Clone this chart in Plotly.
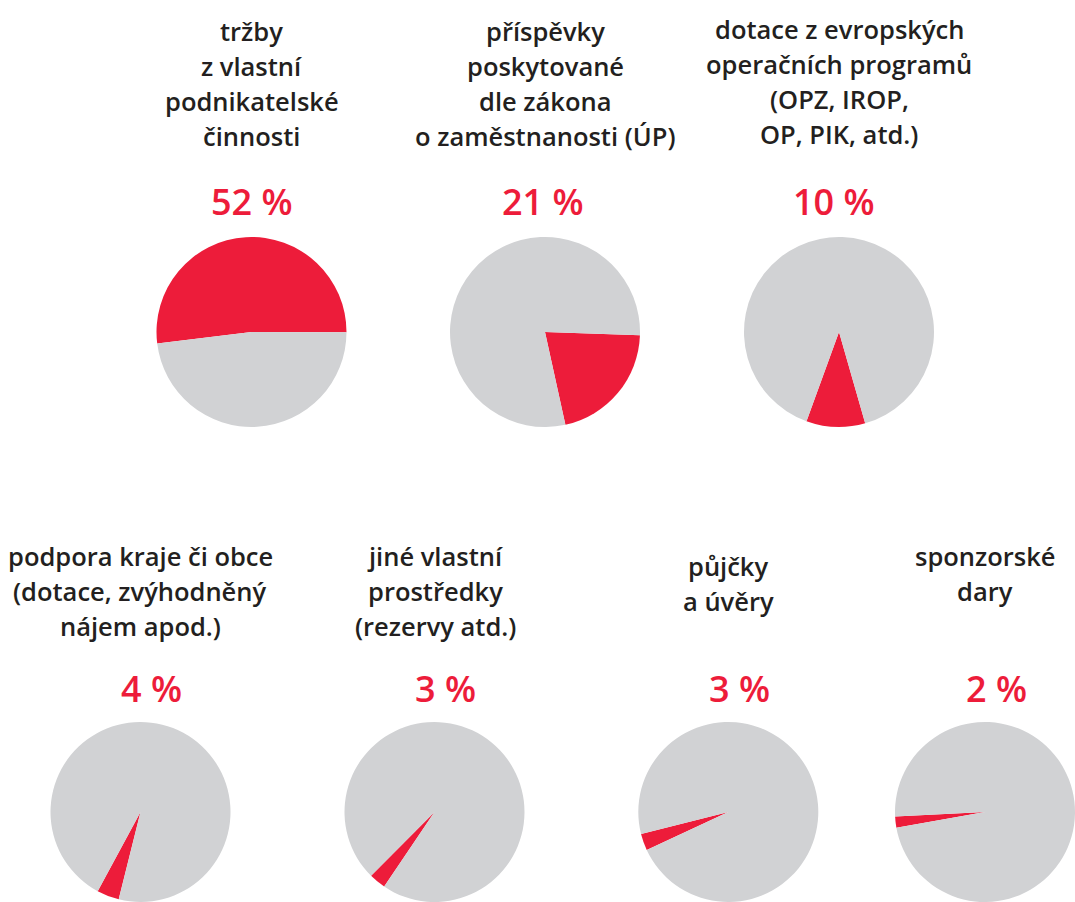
import plotly.graph_objects as go

W, H = 1075, 902

# Source categories (title lines), shares in percent
titles = [
    ["tržby", "z vlastní", "podnikatelské", "činnosti"],
    ["příspěvky", "poskytované", "dle zákona", "o zaměstnanosti (ÚP)"],
    ["dotace z evropských", "operačních programů", "(OPZ, IROP,", "OP, PIK, atd.)"],
    ["podpora kraje či obce", "(dotace, zvýhodněný", "nájem apod.)"],
    ["jiné vlastní", "prostředky", "(rezervy atd.)"],
    ["půjčky", "a úvěry"],
    ["sponzorské", "dary"],
]
shares = [52, 21, 10, 4, 3, 3, 2]

# Where each red slice begins (degrees clockwise from 12 o'clock)
rotations = [263, 92, 164, 194, 214, 245, 260]

# Layout in pixels: pie centre x, centre y, radius
pie_cx = [251.5, 545, 839, 140.5, 434.5, 728.3, 985]
pie_cy = [332, 332, 332, 812, 812, 812, 812]
pie_r = [95, 95, 95, 90, 90, 90, 90]
title_top = [31, 31, 29, 556, 556, 566, 556]
title_cx = [251.5, 545, 839, 140, 435, 728, 985]
pct_cx = [251.5, 542.5, 834, 151, 445, 739, 996]
pct_cy = [202, 202, 202, 688, 688, 688, 688]
line_gap = 35

RED = "#ED1C3A"
GREY = "#D1D2D4"
INK = "#231F20"
FONT = "Open Sans"

fig = go.Figure()

for i, p in enumerate(shares):
    cx, cy, r = pie_cx[i], pie_cy[i], pie_r[i]
    fig.add_trace(go.Pie(
        values=[p, 100 - p],
        marker=dict(colors=[RED, GREY], line=dict(width=0)),
        sort=False,
        direction="clockwise",
        rotation=rotations[i],
        textinfo="none",
        hoverinfo="skip",
        showlegend=False,
        domain=dict(
            x=[(cx - r) / W, (cx + r) / W],
            y=[(H - (cy + r)) / H, (H - (cy - r)) / H],
        ),
    ))

annotations = []
for i, lines in enumerate(titles):
    for j, line in enumerate(lines):
        annotations.append(dict(
            text=line, x=title_cx[i] / W, y=1 - (title_top[i] + j * line_gap) / H,
            xref="paper", yref="paper", xanchor="center", yanchor="middle",
            showarrow=False,
            font=dict(family=FONT, size=25.5, color=INK, weight=600),
        ))
    annotations.append(dict(
        text=f"{shares[i]} %", x=pct_cx[i] / W, y=1 - pct_cy[i] / H,
        xref="paper", yref="paper", xanchor="center", yanchor="middle",
        showarrow=False,
        font=dict(family=FONT, size=36, color=RED, weight=600),
    ))

fig.update_layout(
    width=W, height=H,
    margin=dict(l=0, r=0, t=0, b=0),
    paper_bgcolor="white",
    plot_bgcolor="white",
    annotations=annotations,
)

fig.write_html("out.html")
